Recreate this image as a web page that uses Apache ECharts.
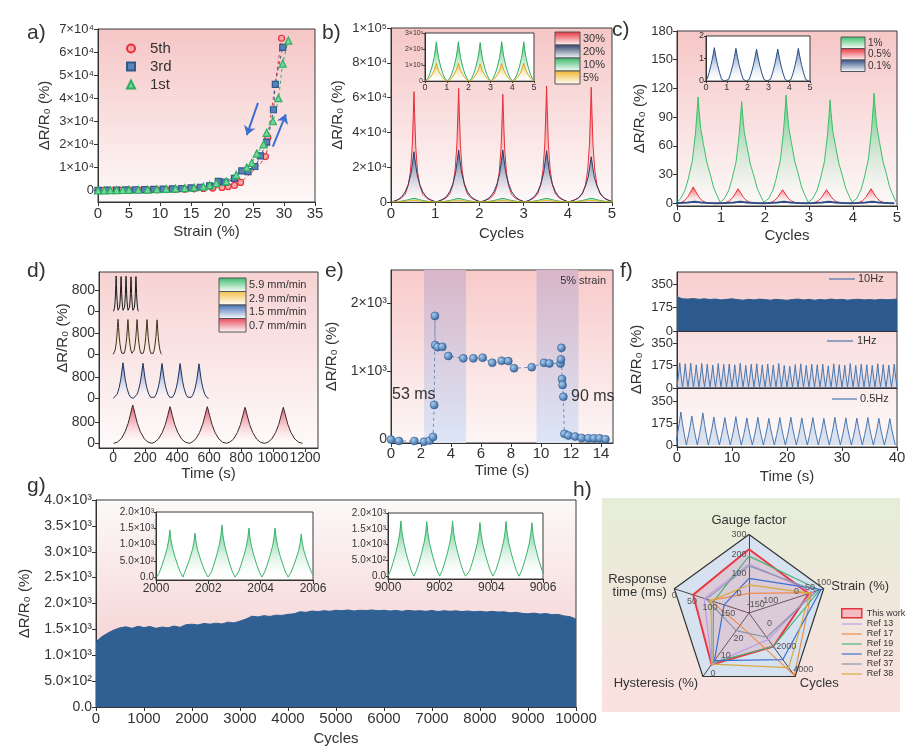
<!DOCTYPE html>
<html>
<head>
<meta charset="utf-8">
<script src="https://cdn.jsdelivr.net/npm/echarts@6.0.0/dist/echarts.min.js"></script>
<style>
html, body { margin: 0; padding: 0; background: #fff; }
#fig { width: 924px; height: 754px; }
</style>
</head>
<body>
<div id="fig"></div>
<script>
const FONT = 'Arial, "Liberation Sans", Helvetica, sans-serif';
const INK = '#333';

// ---- a) cyclic loading, dR/R0 vs strain
const a5th = [[0.5,0],[1.5,60],[2.5,90],[3.5,120],[5,160],[6.5,200],[8,260],[9.5,320],[11,400],[12.5,480],[14,580],[15.5,700],[17,850],[18.5,1050],[20,1300],[21,1700],[22,2200],[23,3500],[27,14700],[27.4,23000],[29.6,66000]];
const a3rd = [[0,100],[1.5,150],[3,200],[4.5,250],[6,300],[7.5,380],[9,450],[10.5,550],[12,700],[13.5,850],[15,1100],[16.5,1400],[18,2000],[19.4,3900],[20.5,3600],[22,5200],[23.2,8500],[24.2,8200],[25.3,10400],[26.2,15000],[27.2,21000],[28.3,35000],[28.6,46000],[29.8,62000]];
const a1st = [[0,0],[1,80],[2,120],[3,160],[4,200],[5,250],[6.5,320],[8,400],[9.5,520],[11,650],[12.5,820],[14,1050],[15.5,1300],[17,1700],[18,2300],[19.1,3200],[20.7,3900],[22.3,6800],[24,10000],[24.8,12000],[25.6,16000],[26.7,20000],[27.2,25000],[28.2,30000],[29.1,40000],[29.8,55000],[30.7,65000]];

// ---- b) different strains
const bPeakX = [0.52, 1.53, 2.53, 3.52, 4.53];
const b30 = [63400, 65300, 61900, 66700, 65900];
const b20 = [28900, 29900, 29900, 29500, 26000];
const b10 = [2450, 2450, 2400, 2450, 2450];
const b05 = [1100, 1120, 1080, 1100, 1110];
const bSharp = [[-0.5,0],[-0.3,0.03],[-0.2,0.07],[-0.13,0.15],[-0.08,0.28],[-0.04,0.5],[-0.015,0.8],[0,1],[0.015,0.8],[0.04,0.5],[0.08,0.28],[0.13,0.15],[0.2,0.07],[0.3,0.03],[0.5,0]];
const bWide = [[-0.5,0],[-0.38,0.04],[-0.28,0.1],[-0.2,0.2],[-0.13,0.35],[-0.07,0.55],[-0.03,0.8],[0,1],[0.03,0.8],[0.07,0.55],[0.13,0.35],[0.2,0.2],[0.28,0.1],[0.38,0.04],[0.5,0]];
const bTri = [[-0.5,0],[-0.4,0.06],[-0.3,0.18],[-0.2,0.36],[-0.1,0.6],[-0.04,0.82],[0,1],[0.04,0.82],[0.1,0.6],[0.2,0.36],[0.3,0.18],[0.4,0.06],[0.5,0]];

// ---- c) small strains
const cGreenX = [0.48, 1.47, 2.48, 3.48, 4.48];
const cGreen = [111, 106, 113, 108, 115];
const cRedX = [0.37, 1.39, 2.40, 3.40, 4.41];
const cRed = [17, 15, 14, 14, 15];
const cBlueX = [0.40, 1.44, 2.43, 3.45, 4.44];
const cBlue = [1.48, 1.45, 1.42, 1.42, 1.45];
const cGreenProf = [[-0.5,0],[-0.4,0.04],[-0.3,0.12],[-0.23,0.22],[-0.13,0.4],[-0.06,0.66],[-0.02,0.88],[0,1],[0.02,0.88],[0.06,0.7],[0.12,0.56],[0.2,0.38],[0.27,0.28],[0.35,0.15],[0.42,0.08],[0.5,0.01]];
const cRedProf = [[-0.5,0],[-0.3,0.02],[-0.2,0.15],[-0.12,0.4],[-0.05,0.75],[0,1],[0.05,0.75],[0.12,0.4],[0.2,0.15],[0.3,0.02],[0.5,0]];
const cBlueProf = [[-0.5,0],[-0.35,0.05],[-0.25,0.25],[-0.15,0.5],[-0.07,0.75],[0,1],[0.07,0.75],[0.15,0.5],[0.25,0.25],[0.35,0.05],[0.5,0]];

// ---- d) stretching rates (peak times in s, heights in %)
const dRedX = [123, 356, 589, 825, 1064];
const dRed = [1430, 1370, 1370, 1345, 1345];
const dBlueX = [62, 187, 306, 419, 537];
const dBlue = [1330, 1310, 1300, 1300, 1290];
const dYelX = [31, 93, 150, 212, 275];
const dYel = [1310, 1300, 1300, 1300, 1290];
const dGrnX = [19, 50, 81, 112, 143];
const dGrn = [1320, 1300, 1310, 1290, 1300];
const dProf = [[-0.5,0],[-0.4,0.03],[-0.3,0.12],[-0.2,0.3],[-0.12,0.52],[-0.06,0.76],[-0.02,0.93],[0,1],[0.02,0.93],[0.06,0.76],[0.12,0.52],[0.2,0.3],[0.3,0.12],[0.4,0.03],[0.5,0]];

// ---- e) response time
const eData = [[0,-10],[0.53,-30],[1.56,-30],[2.2,-40],[2.58,-25],[2.8,30],[2.88,500],[2.93,1810],[2.95,1380],[3.1,1350],[3.42,1355],[3.82,1220],[4.82,1185],[5.49,1185],[6.11,1195],[6.75,1120],[7.38,1150],[7.82,1145],[8.2,1040],[9.38,1055],[10.2,1120],[10.56,1110],[11.3,1110],[11.33,1170],[11.36,1340],[11.4,880],[11.44,795],[11.49,620],[11.56,75],[11.82,50],[12.27,35],[12.71,15],[13.16,10],[13.53,10],[13.9,10],[14.3,-5]];

// ---- f) frequencies
const f10Env = [255,240,238,242,236,240,235,238,232,236,240,234,230,236,232,238,234,230,236,233,229,235,238,232,236,230,235,232,238,233,236,230,234,237,232,235,231,236,233,235,238];
const f1X = [0.5,1.5,2.5,3.5,4.5,5.5,6.5,7.5,8.5,9.5,10.5,11.5,12.5,13.5,14.5,15.5,16.5,17.5,18.5,19.5,20.5,21.5,22.5,23.5,24.5,25.5,26.5,27.5,28.5,29.5,30.5,31.5,32.5,33.5,34.5,35.5,36.5,37.5,38.5,39.5];
const f1H = [195,188,192,180,190,185,178,190,183,187,180,192,176,185,188,180,186,178,190,175,170,182,188,176,184,180,186,172,188,181,178,190,175,185,180,176,188,182,178,186];
const f05X = [0.7,2.7,4.7,6.7,8.7,10.7,12.7,14.7,16.7,18.7,20.7,22.7,24.7,26.7,28.7,30.7,32.7,34.7,36.7,38.7];
const f05H = [262,230,255,222,218,225,215,220,212,218,220,215,218,212,220,216,214,218,212,210];
const fProf1 = [[-0.5,0.05],[-0.3,0.38],[-0.15,0.66],[0,1],[0.15,0.66],[0.3,0.38],[0.5,0.05]];
const fProf05 = [[-0.5,0],[-0.3,0.35],[-0.15,0.64],[0,1],[0.15,0.64],[0.3,0.35],[0.5,0]];

// ---- g) 10000 cycles: upper envelope every 125 cycles
const gEnv = [1260,1360,1430,1490,1530,1550,1520,1560,1535,1555,1520,1545,1530,1565,1540,1590,1600,1585,1615,1600,1620,1605,1640,1625,1660,1700,1755,1740,1765,1750,1775,1770,1790,1800,1840,1830,1855,1845,1860,1850,1870,1860,1875,1855,1870,1865,1875,1860,1870,1855,1865,1850,1868,1855,1860,1850,1865,1845,1860,1850,1858,1845,1855,1840,1850,1835,1848,1835,1840,1820,1830,1810,1800,1815,1795,1805,1785,1790,1760,1745,1700];
const gIn1X = [2000.53, 2001.49, 2002.52, 2003.55, 2004.55, 2005.55];
const gIn1H = [1450, 1350, 1600, 1510, 1510, 1320];
const gIn2X = [9000.5, 9001.5, 9002.5, 9003.56, 9004.57, 9005.57];
const gIn2H = [1750, 1730, 1750, 1700, 1730, 1690];
const gProf = [[-0.5,0],[-0.4,0.1],[-0.3,0.25],[-0.2,0.42],[-0.1,0.62],[-0.04,0.8],[0,1],[0.04,0.8],[0.1,0.62],[0.2,0.42],[0.3,0.25],[0.4,0.1],[0.5,0]];

// ---- h) comparison radar: gauge factor, response (ms), hysteresis (%), cycles, strain (%)
const hNames = ['This work', 'Ref 13', 'Ref 17', 'Ref 19', 'Ref 22', 'Ref 37', 'Ref 38'];
const hColors = ['#e8303a', '#b99ae6', '#ef8b4c', '#4cb07a', '#3f6fd1', '#8894a8', '#d8a93e'];
const hGauge = [225, 150, 0, 190, 76, 140, 43];
const hResp = [53, 84, 100, 110, 140, 90, 103];
const hHyst = [2.8, 3, 25, 4, 5, 22, 3];
const hCycles = [1400, 800, 3900, 1400, 2530, 600, 3230];
const hStrain = [45, 60, 55, 85, 90, 75, 50];

// ---------- helpers
function wave(xs, hs, prof, w) {
  const out = [];
  xs.forEach(function(x, i) {
    prof.forEach(function(p) { out.push([x + p[0] * w, p[1] * hs[i]]); });
  });
  return out;
}
const SUP = {'0': '⁰', '1': '¹', '2': '²', '3': '³', '4': '⁴', '5': '⁵'};
function sci(dec) {
  return function(v) {
    if (v === 0) return dec ? (0).toFixed(dec) : '0';
    const e = Math.floor(Math.log10(Math.abs(v)) + 1e-9);
    const m = v / Math.pow(10, e);
    return (dec ? m.toFixed(dec) : Math.round(m)) + '×10' + String(e).split('').map(c => SUP[c]).join('');
  };
}
function plain(v) { return String(v); }
function vgrad(c0, c1) {
  return new echarts.graphic.LinearGradient(0, 0, 0, 1, [{offset: 0, color: c0}, {offset: 1, color: c1}]);
}
function fade(c) { return vgrad(c, 'rgba(255,255,255,0.15)'); }
function grid(l, t, w, h, bg) {
  return {left: l, top: t, width: w, height: h, show: !!bg, backgroundColor: bg || 'transparent',
    borderColor: '#3a3a3a', borderWidth: bg ? 1 : 0, containLabel: false, outerBoundsMode: 'none'};
}
function axis(gi, min, max, o) {
  o = o || {};
  const ax = {
    type: 'value', gridIndex: gi, min: min, max: max, show: o.show !== false,
    axisLine: {show: o.line !== false, onZero: false, lineStyle: {color: INK, width: 1}},
    axisTick: {show: o.tick !== false, length: o.tl || 4, lineStyle: {color: INK}},
    axisLabel: {show: o.label !== false, color: INK, fontFamily: FONT, fontSize: o.fs || 14,
      margin: o.margin != null ? o.margin : 4, formatter: o.fmt || plain, hideOverlap: false},
    splitLine: {show: false}
  };
  if (o.interval) ax.interval = o.interval;
  if (o.ticks) { ax.axisLabel.customValues = o.ticks; ax.axisTick.customValues = o.ticks; }
  if (o.name) {
    ax.name = o.name; ax.nameLocation = 'middle'; ax.nameGap = o.gap;
    ax.nameTextStyle = {color: INK, fontFamily: FONT, fontSize: o.ns || 15};
  }
  return ax;
}
function area(name, data, gi, line, fill, o) {
  o = o || {};
  return {
    type: 'line', name: name, data: data, xAxisIndex: gi, yAxisIndex: gi,
    showSymbol: false, symbol: 'none', clip: o.clip !== undefined ? o.clip : true,
    lineStyle: {color: line, width: o.lw || 1}, itemStyle: {color: line},
    areaStyle: fill ? {color: fill, opacity: 1} : undefined, silent: true, z: o.z || 2
  };
}
function txt(t, x, y, fs, o) {
  o = o || {};
  return {type: 'text', x: x, y: y, z: 20, rotation: o.rot || 0,
    style: {text: t, fill: o.color || INK, fontSize: fs, fontFamily: FONT,
      align: o.align || 'left', verticalAlign: o.va || 'top'}};
}
function legBox(x, y, w, h, c) {
  return {type: 'rect', z: 20, shape: {x: x, y: y, width: w, height: h},
    style: {fill: vgrad(c, '#ffffff'), stroke: '#555', lineWidth: 1}};
}

const DR = 'ΔR/R₀ (%)';
const pink = vgrad('#f6c6c6', '#fdf8f8');

const grids = [
  grid(98, 29, 217, 173, pink),                       // 0 a
  grid(391, 28, 221, 174, pink),                      // 1 b
  grid(425, 33, 109, 48, '#ffffff'),                  // 2 b inset
  grid(677, 31, 220, 175, pink),                      // 3 c
  grid(706, 36, 104, 45, '#ffffff'),                  // 4 c inset
  grid(99, 272, 219, 176, vgrad('#f7d2d2', '#fefafa')), // 5 d frame
  grid(99, 402, 219, 44), grid(99, 357, 219, 44),     // 6,7 d traces
  grid(99, 313, 219, 44), grid(99, 270, 219, 44),     // 8,9
  grid(391, 270, 222, 173, vgrad('#f8caca', '#fdf6f6')), // 10 e
  grid(677, 272, 220, 59, vgrad('#f8cfcf', '#f9dada')),  // 11 f 10Hz
  grid(677, 331, 220, 57, vgrad('#fadfdf', '#fbe9e9')),  // 12 f 1Hz
  grid(677, 388, 220, 59, vgrad('#fcecec', '#fefafa')),  // 13 f 0.5Hz
  grid(96, 500, 480, 207, vgrad('#fcf9f9', '#f4c6c6')),  // 14 g
  grid(156, 512, 157, 68, '#ffffff'),                 // 15 g inset 1
  grid(388, 513, 155, 66, '#ffffff')                  // 16 g inset 2
];

const dTicksX = [0, 200, 400, 600, 800, 1000, 1200];
const xAxes = [
  axis(0, 0, 35, {interval: 5, fs: 15, name: 'Strain (%)', gap: 22}),
  axis(1, 0, 5, {interval: 1, fs: 15, name: 'Cycles', gap: 24}),
  axis(2, 0, 5, {interval: 1, fs: 9, margin: 2, tl: 2}),
  axis(3, 0, 5, {interval: 1, fs: 15, name: 'Cycles', gap: 22}),
  axis(4, 0, 5, {interval: 1, fs: 9, margin: 2, tl: 2}),
  axis(5, -88, 1281, {ticks: dTicksX, fs: 14, margin: 3, name: 'Time (s)', gap: 18}),
  axis(6, -88, 1281, {show: false}), axis(7, -88, 1281, {show: false}),
  axis(8, -88, 1281, {show: false}), axis(9, -88, 1281, {show: false}),
  axis(10, 0, 14.8, {interval: 2, fs: 15, margin: 3, name: 'Time (s)', gap: 20}),
  axis(11, 0, 40, {label: false, tick: false}),
  axis(12, 0, 40, {label: false, tick: false}),
  axis(13, 0, 40, {interval: 10, fs: 15, margin: 3, name: 'Time (s)', gap: 22}),
  axis(14, 0, 10000, {interval: 1000, fs: 15, name: 'Cycles', gap: 24}),
  axis(15, 2000, 2006, {interval: 2, fs: 12, margin: 3}),
  axis(16, 9000, 9006, {interval: 2, fs: 12, margin: 3})
];
const dTicksY = [0, 800];
const fTicks = [0, 175, 350];
const gInTicks = [0, 500, 1000, 1500, 2000];
const yAxes = [
  axis(0, -5000, 70000, {ticks: [0,10000,20000,30000,40000,50000,60000,70000], fmt: sci(0), fs: 13, name: DR, gap: 46}),
  axis(1, 0, 100000, {interval: 20000, fmt: sci(0), fs: 13, name: DR, gap: 46}),
  axis(2, 0, 3000, {interval: 1000, fmt: sci(0), fs: 7, margin: 2, tl: 2}),
  axis(3, -3, 180, {ticks: [0,30,60,90,120,150,180], fs: 13, name: DR, gap: 29}),
  axis(4, 0, 2, {interval: 1, fs: 9, margin: 2, tl: 2}),
  axis(5, 0, 1, {label: false, tick: false}),
  axis(6, -100, 1545, {ticks: dTicksY, line: false, fs: 14}),
  axis(7, -100, 1545, {ticks: dTicksY, line: false, fs: 14}),
  axis(8, -100, 1545, {ticks: dTicksY, line: false, fs: 14}),
  axis(9, -100, 1545, {ticks: dTicksY, line: false, fs: 14}),
  axis(10, -60, 2485, {ticks: [0, 1000, 2000], fmt: sci(0), fs: 14, name: DR, gap: 52}),
  axis(11, 0, 440, {ticks: fTicks, fs: 13}),
  axis(12, 0, 443, {ticks: fTicks, fs: 13, name: DR, gap: 33}),
  axis(13, -16, 453, {ticks: fTicks, fs: 13}),
  axis(14, 0, 4000, {interval: 500, fmt: sci(1), fs: 14, name: DR, gap: 64}),
  axis(15, -90, 2000, {ticks: gInTicks, fmt: sci(1), fs: 10, margin: 2, tl: 2}),
  axis(16, -90, 2000, {ticks: gInTicks, fmt: sci(1), fs: 10, margin: 2, tl: 2})
];

function scat(name, data, sym, size, fill, edge) {
  return {
    type: 'line', name: name, data: data, xAxisIndex: 0, yAxisIndex: 0, smooth: 0.3,
    symbol: sym, symbolSize: size, showSymbol: true,
    itemStyle: {color: fill, borderColor: edge, borderWidth: 1.2},
    lineStyle: {color: edge, width: 1, type: [3, 3]}, z: 3
  };
}

const gEnvData = gEnv.map((v, i) => [i * 125, v]);
const f10Data = f10Env.map((v, i) => [i, v]);
const sphere = new echarts.graphic.RadialGradient(0.35, 0.35, 0.75,
  [{offset: 0, color: '#a9cdf0'}, {offset: 1, color: '#2a5c98'}]);

const series = [
  // a
  Object.assign(scat('5th', a5th, 'circle', 6, '#f6a5a8', '#e8303a'), {
    markLine: {silent: true, symbol: ['none', 'arrow'], symbolSize: 9, label: {show: false},
      lineStyle: {color: '#3d6fd0', width: 2, type: 'solid'},
      data: [[{coord: [25.8, 38000]}, {coord: [24.0, 24000]}], [{coord: [28.2, 19000]}, {coord: [30.3, 33000]}]]}
  }),
  scat('3rd', a3rd, 'rect', 6, '#5b82b5', '#2f5a8e'),
  scat('1st', a1st, 'triangle', 7, '#72d69e', '#2fae5f'),
  // b main
  area('30%', wave(bPeakX, b30, bSharp, 1), 1, '#e8303a', fade('#ec4a50')),
  area('20%', wave(bPeakX, b20, bWide, 1), 1, '#2b3f66', fade('#3f5f92')),
  area('10%', wave(bPeakX, b10, bTri, 1), 1, '#2fae5f', fade('#43c070')),
  area('5%', wave(bPeakX, b05, bTri, 1), 1, '#e6b422', fade('#f2c43a')),
  // b inset
  area('10% in', wave(bPeakX, b10, bTri, 1), 2, '#2fae5f', fade('#43c070')),
  area('5% in', wave(bPeakX, b05, bTri, 1), 2, '#d9a41a', fade('#f2c43a')),
  // c main
  area('1%', wave(cGreenX, cGreen, cGreenProf, 1), 3, '#3cbf6a', fade('#4cc77a')),
  area('0.5%', wave(cRedX, cRed, cRedProf, 1), 3, '#e8303a', fade('#ec4a50')),
  area('0.1%', wave(cBlueX, cBlue, cBlueProf, 1), 3, '#2d4f86', fade('#3f5f92'), {lw: 2}),
  // c inset
  area('0.1% in', wave(cBlueX, cBlue, cBlueProf, 1), 4, '#2d4f86', fade('#4f78b0')),
  // d
  area('0.7 mm/min', wave(dRedX, dRed, dProf, 240), 6, '#3a2a2a', fade('#e84a5f'), {clip: false}),
  area('1.5 mm/min', wave(dBlueX, dBlue, dProf, 120), 7, '#1f355e', fade('#4d7cc2'), {clip: false}),
  area('2.9 mm/min', wave(dYelX, dYel, dProf, 60), 8, '#3a3520', fade('#f2c04a'), {clip: false}),
  area('5.9 mm/min', wave(dGrnX, dGrn, dProf, 31), 9, '#1a1a1a', fade('#3cb96a'), {clip: false}),
  // e
  {
    type: 'line', name: '5% strain', data: eData, xAxisIndex: 10, yAxisIndex: 10,
    symbol: 'circle', symbolSize: 8, showSymbol: true,
    itemStyle: {color: sphere, borderColor: '#2a5585', borderWidth: 0.5},
    lineStyle: {color: '#6f8fbf', width: 1, type: [3, 3]}, z: 3,
    markArea: {silent: true,
      itemStyle: {color: vgrad('#d8b6c8', '#dce6f7')},
      data: [[{xAxis: 2.2}, {xAxis: 5.0}], [{xAxis: 9.7}, {xAxis: 12.5}]]}
  },
  // f
  area('10Hz', f10Data, 11, '#2d5a8e', '#2d5a8e'),
  area('1Hz', wave(f1X, f1H, fProf1, 1), 12, '#4677b0', 'rgba(120,160,210,0.25)'),
  area('0.5Hz', wave(f05X, f05H, fProf05, 2), 13, '#4677b0', 'rgba(120,160,210,0.25)'),
  // g
  area('10000 cycles', gEnvData, 14, '#2f5f93', '#2f5f93'),
  area('2000-2006', wave(gIn1X, gIn1H, gProf, 1), 15, '#3bb36a', fade('#52c27f')),
  area('9000-9006', wave(gIn2X, gIn2H, gProf, 1), 16, '#3bb36a', fade('#52c27f')),
  // h
  {
    type: 'radar', radarIndex: 0, symbol: 'none', silent: true, z: 3,
    data: hNames.map(function(n, i) {
      return {
        name: n,
        value: [hGauge[i], -hResp[i], -hHyst[i], hCycles[i], hStrain[i]],
        itemStyle: {color: hColors[i]},
        lineStyle: {color: hColors[i], width: i === 0 ? 2 : 1.2},
        areaStyle: i === 0 ? {color: 'rgba(236,130,150,0.35)'} : undefined
      };
    })
  }
];

// radar geometry and tick labels (axis 1 and 2 drawn inverted)
const radarC = [749, 613], radarR = 78.5;
const radarInd = [
  {name: 'Gauge factor', min: -100, max: 300},
  {name: 'Response\ntime (ms)', min: -210, max: 0},
  {name: 'Hysteresis (%)', min: -32, max: 4},
  {name: 'Cycles', min: -1500, max: 4000},
  {name: 'Strain (%)', min: -175, max: 100}
];
const radarTicks = [
  {ax: 0, vals: [300, 200, 100, 0], sign: 1, dx: -10, dy: 0},
  {ax: 1, vals: [0, 50, 100, 150], sign: -1, dx: 0, dy: 7},
  {ax: 2, vals: [0, 10, 20], sign: -1, dx: 5, dy: 4},
  {ax: 3, vals: [0, 2000, 4000], sign: 1, dx: 8, dy: -7},
  {ax: 4, vals: [-150, -100, 0, 50, 100], sign: 1, dx: 0, dy: -6}
];
const radarLabels = [];
radarTicks.forEach(function(t) {
  const ind = radarInd[t.ax];
  const ang = (90 + 72 * t.ax) * Math.PI / 180;
  t.vals.forEach(function(v) {
    const r = (t.sign * v - ind.min) / (ind.max - ind.min) * radarR;
    radarLabels.push(txt(String(v), radarC[0] + r * Math.cos(ang) + t.dx,
      radarC[1] - r * Math.sin(ang) + t.dy, 9, {align: 'center', va: 'middle', color: '#555'}));
  });
});

const graphics = [
  {type: 'rect', z: -10, shape: {x: 602, y: 498, width: 298, height: 214},
    style: {fill: vgrad('#e5eed8', '#fbe0e0')}},
  txt('a)', 27, 23, 21), txt('b)', 322, 23, 21), txt('c)', 612, 20, 21),
  txt('d)', 27, 261, 21), txt('e)', 325, 261, 21), txt('f)', 620, 261, 21),
  txt('g)', 27, 476, 21), txt('h)', 573, 480, 21),
  // b legend
  legBox(555, 32, 25, 13, '#e8303a'), legBox(555, 45, 25, 13, '#2b3f66'),
  legBox(555, 58, 25, 13, '#35b565'), legBox(555, 71, 25, 13, '#f0b52a'),
  txt('30%', 583, 38.5, 11, {va: 'middle'}), txt('20%', 583, 51.5, 11, {va: 'middle'}),
  txt('10%', 583, 64.5, 11, {va: 'middle'}), txt('5%', 583, 77.5, 11, {va: 'middle'}),
  // c legend
  legBox(841, 37, 24, 11.5, '#3cbf6a'), legBox(841, 48.5, 24, 11.5, '#e8303a'),
  legBox(841, 60, 24, 11.5, '#2d4f86'),
  txt('1%', 868, 43, 10, {va: 'middle'}), txt('0.5%', 868, 54.5, 10, {va: 'middle'}),
  txt('0.1%', 868, 66, 10, {va: 'middle'}),
  // d legend and y name
  legBox(219, 278, 27, 13.5, '#3cb96a'), legBox(219, 291.5, 27, 13.5, '#f2c04a'),
  legBox(219, 305, 27, 13.5, '#3f6cb0'), legBox(219, 318.5, 27, 13.5, '#e8485a'),
  txt('5.9 mm/min', 249, 285, 11, {va: 'middle'}), txt('2.9 mm/min', 249, 298.5, 11, {va: 'middle'}),
  txt('1.5 mm/min', 249, 312, 11, {va: 'middle'}), txt('0.7 mm/min', 249, 325.5, 11, {va: 'middle'}),
  txt(DR, 63, 338, 15, {rot: Math.PI / 2, align: 'center', va: 'middle'}),
  // e notes
  txt('53 ms', 392, 395, 16, {va: 'middle'}), txt('90 ms', 571, 397, 16, {va: 'middle'}),
  txt('5% strain', 606, 281, 11, {align: 'right', va: 'middle'}),
  // f legends
  {type: 'line', z: 20, shape: {x1: 829, y1: 279, x2: 855, y2: 279}, style: {stroke: '#4677b0', lineWidth: 1.2}},
  {type: 'line', z: 20, shape: {x1: 827, y1: 341, x2: 853, y2: 341}, style: {stroke: '#4677b0', lineWidth: 1.2}},
  {type: 'line', z: 20, shape: {x1: 832, y1: 399, x2: 857, y2: 399}, style: {stroke: '#4677b0', lineWidth: 1.2}},
  txt('10Hz', 858, 279, 11, {va: 'middle'}), txt('1Hz', 857, 341, 11, {va: 'middle'}),
  txt('0.5Hz', 860, 399, 11, {va: 'middle'})
].concat(radarLabels);

const lineIcon = 'path://M0,0H20V1.2H0Z';
const option = {
  animation: false,
  backgroundColor: '#ffffff',
  textStyle: {fontFamily: FONT},
  grid: grids,
  xAxis: xAxes,
  yAxis: yAxes,
  radar: [{
    center: radarC, radius: radarR, startAngle: 90, splitNumber: 1, shape: 'polygon',
    indicator: radarInd, nameGap: 8,
    axisName: {color: INK, fontSize: 13, fontFamily: FONT},
    axisLine: {lineStyle: {color: '#444', width: 1}},
    splitLine: {lineStyle: {color: '#333', width: 1.2}},
    splitArea: {areaStyle: {color: ['#d7e2f0']}},
    axisLabel: {show: false}
  }],
  legend: [
    {left: 121, top: 36, orient: 'vertical', itemWidth: 8, itemHeight: 8, itemGap: 3,
      selectedMode: false, textStyle: {fontSize: 15, color: INK, fontFamily: FONT, padding: [0, 0, 0, 10]},
      data: [{name: '5th', icon: 'circle'}, {name: '3rd', icon: 'rect'}, {name: '1st', icon: 'triangle'}]},
    {left: 836, top: 603, orient: 'vertical', itemWidth: 20, itemHeight: 9, itemGap: 1,
      selectedMode: false, textStyle: {fontSize: 9, color: INK, fontFamily: FONT},
      data: hNames.map(function(n, i) {
        return i === 0
          ? {name: n, icon: 'rect', itemStyle: {color: '#f3bcc4', borderColor: '#e8303a', borderWidth: 1.5}}
          : {name: n, icon: lineIcon};
      })}
  ],
  graphic: graphics,
  series: series
};

const chart = echarts.init(document.getElementById('fig'), null, {renderer: 'canvas'});
chart.setOption(option);
</script>
</body>
</html>
